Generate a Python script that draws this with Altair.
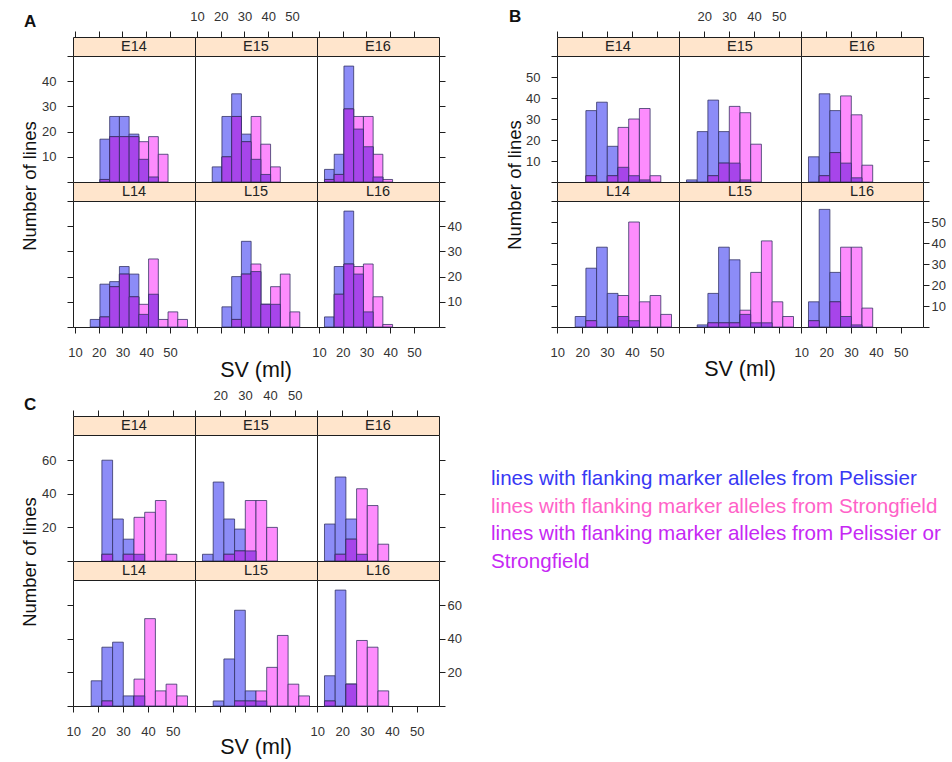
import altair as alt
import pandas as pd

FONT = "Liberation Sans"
INK = "#1e1e1e"
BLUE = "#8c8cf7"
PINK = "#fd8cfd"
PURPLE = "#a745ea"
EDGE = "#2e2e5e"
STRIP = "#ffe5cc"
W, PH, SH = 122, 126, 19

FACETS = ["E14", "E15", "E16", "L14", "L15", "L16"]
XTICKS = [10, 20, 30, 40, 50]

# ---------------- Panel A (bins start 12.3, width 4.1) ----------------
A_START, A_WIDTH = 12.3, 4.1
A_XDOM = [9.14, 60.56]
A_YMAX = 50
A_YTICKS = [0, 10, 20, 30, 40, 50]
A_E14_P = [0, 0, 17, 26, 26, 19, 9, 2, 0, 0, 0]
A_E14_S = [0, 0, 1, 18, 18, 18, 16, 18, 11, 0, 0]
A_E15_P = [0, 6, 26, 35, 19, 9, 3, 0, 0, 0, 0]
A_E15_S = [0, 0, 10, 26, 16, 26, 15, 6, 0, 0, 0]
A_E16_P = [5, 11, 46, 21, 14, 2, 0, 0, 0, 0, 0]
A_E16_S = [1, 3, 29, 26, 26, 11, 1, 0, 0, 0, 0]
A_L14_P = [0, 3, 17, 18, 24, 21, 5, 13, 0, 0, 0]
A_L14_S = [0, 0, 4, 16, 21, 12, 9, 27, 3, 6, 3]
A_L15_P = [0, 0, 8, 20, 34, 22, 9, 9, 0, 0, 0]
A_L15_S = [0, 0, 0, 3, 21, 25, 9, 16, 21, 6, 0]
A_L16_P = [4, 24, 46, 21, 6, 0, 0, 0, 0, 0, 0]
A_L16_S = [0, 13, 25, 24, 25, 12, 1, 0, 0, 0, 0]

# ---------------- Panel B (bins start 12.9, width 4.3) ----------------
B_START, B_WIDTH = 12.9, 4.3
B_XDOM = [9.89, 58.91]
B_YMAX = 60
B_YTICKS = [0, 10, 20, 30, 40, 50, 60]
B_E14_P = [0, 0, 34, 38, 17, 7, 3, 1, 0, 0]
B_E14_S = [0, 0, 3, 0, 3, 26, 30, 35, 3, 0]
B_E15_P = [1, 24, 39, 24, 9, 1, 0, 0, 0, 0]
B_E15_S = [0, 0, 3, 9, 36, 33, 18, 0, 0, 0]
B_E16_P = [12, 42, 34, 9, 2, 0, 0, 0, 0, 0]
B_E16_S = [0, 3, 14, 41, 32, 8, 0, 0, 0, 0]
B_L14_P = [0, 5, 28, 38, 16, 5, 3, 0, 0, 0]
B_L14_S = [0, 0, 3, 0, 0, 15, 50, 12, 15, 6]
B_L15_P = [0, 1, 16, 38, 32, 6, 2, 2, 0, 0]
B_L15_S = [0, 0, 2, 2, 2, 8, 26, 41, 12, 5]
B_L16_P = [12, 56, 26, 5, 1, 0, 0, 0, 0, 0]
B_L16_S = [3, 0, 12, 38, 38, 9, 0, 0, 0, 0]

# ---------------- Panel C (bins start 12.9, width 4.3) ----------------
C_START, C_WIDTH = 12.9, 4.3
C_XDOM = [9.89, 58.91]
C_YMAX = 75
C_YTICKS = [0, 20, 40, 60]
C_E14_P = [0, 0, 60, 25, 13, 4, 0, 0, 0, 0]
C_E14_S = [0, 0, 4, 0, 4, 26, 29, 36, 4, 0]
C_E15_P = [4, 47, 25, 19, 6, 0, 0, 0, 0, 0]
C_E15_S = [0, 0, 4, 6, 36, 36, 20, 0, 0, 0]
C_E16_P = [22, 50, 25, 4, 0, 0, 0, 0, 0, 0]
C_E16_S = [0, 4, 13, 43, 33, 10, 0, 0, 0, 0]
C_L14_P = [0, 15, 35, 38, 6, 6, 0, 0, 0, 0]
C_L14_S = [0, 0, 3, 0, 0, 16, 52, 9, 13, 6]
C_L15_P = [0, 3, 28, 57, 9, 3, 0, 0, 0, 0]
C_L15_S = [0, 0, 0, 3, 3, 9, 23, 42, 13, 6]
C_L16_P = [18, 69, 13, 0, 0, 0, 0, 0, 0, 0]
C_L16_S = [3, 0, 13, 39, 35, 9, 0, 0, 0, 0]

PANEL_LETTERS = ["A", "B", "C"]
Y_TITLE = "Number of lines"
X_TITLE = "SV (ml)"
LEGEND_LINES = [
    "lines with flanking marker alleles from Pelissier",
    "lines with flanking marker alleles from Strongfield",
    "lines with flanking marker alleles from Pelissier or",
    "Strongfield",
]
LEGEND_COLORS = ["#3838f4", "#ff62c8", "#c628f4", "#c628f4"]
LEGEND_ROWS = [0, 1, 2, 3]

# grid geometry (flush layout: column widths / row heights in px)
COL_W = [73, W, W, W, 118, W, W, W]
ROW_H = [37, SH, PH, SH, PH, 89, SH, PH, SH, PH, 56]

AXIS_STYLE = dict(domain=False, grid=False, ticks=True, tickColor=INK, tickSize=6,
                  tickWidth=1, labelFont=FONT, labelFontSize=13, labelColor="#333333",
                  labelFlush=False, labelOverlap=False, labelBound=False, title=None)
CLEAR_VIEW = alt.ViewBackground(fill="transparent", stroke="transparent", strokeWidth=0)
ONE = pd.DataFrame({"k": [0]})


def spacer(w, h):
    return alt.Chart(ONE).mark_point(opacity=0, size=1).encode(
        x=alt.value(w / 2), y=alt.value(h / 2)).properties(width=w, height=h, view=CLEAR_VIEW)


def text_cell(w, h, text, x, y, size, weight="normal", angle=0, align="center"):
    df = pd.DataFrame({"t": [text]})
    kw = dict(font=FONT, fontSize=size, fontWeight=weight, color="#111111",
              align=align, baseline="middle")
    if angle:
        kw["angle"] = angle
    return alt.Chart(df).mark_text(**kw).encode(
        x=alt.value(x), y=alt.value(y), text="t:N"
    ).properties(width=w, height=h, view=CLEAR_VIEW)


def hist_frame(pel, stg, start, width):
    rows = []
    for i, (p, s) in enumerate(zip(pel, stg)):
        lo = round(start + i * width, 3)
        rows.append({"lo": lo, "hi": round(lo + width, 3), "pel": p, "stg": s,
                     "both": min(p, s)})
    return pd.DataFrame(rows)


def strip_cell(label, xdom, top_axis, top_labels, hide10):
    df = pd.DataFrame({"xc": [(xdom[0] + xdom[1]) / 2], "lab": [label]})
    scale = alt.Scale(domain=xdom, nice=False, zero=False)
    if top_axis:
        expr = "datum.value == 10 ? '' : datum.label" if hide10 else "datum.label"
        axis = alt.Axis(orient="top", values=XTICKS, labels=top_labels, labelExpr=expr,
                        labelPadding=8, **AXIS_STYLE)
    else:
        axis = None
    return alt.Chart(df).mark_text(font=FONT, fontSize=14.5, color="#222222",
                                   baseline="middle").encode(
        x=alt.X("xc:Q", scale=scale, axis=axis),
        y=alt.value(SH / 2 + 0.5),
        text="lab:N",
    ).properties(width=W, height=SH,
                 view=alt.ViewBackground(fill=STRIP, stroke=INK, strokeWidth=1))


def plot_cell(df, xdom, ymax, yticks, row, col):
    xs = alt.Scale(domain=xdom, nice=False, zero=False)
    ys = alt.Scale(domain=[0, ymax], nice=False, zero=True)
    if row == 1:
        xaxis = alt.Axis(orient="bottom", values=XTICKS, labels=(col != 1),
                         labelPadding=13, **AXIS_STYLE)
    else:
        xaxis = None
    hide = f"(datum.value == 0 || datum.value == {ymax}) ? '' : datum.label"
    if col == 0:
        yaxis = alt.Axis(orient="left", values=yticks, labels=(row == 0), labelExpr=hide,
                         labelPadding=11, **AXIS_STYLE)
    elif col == 2:
        yaxis = alt.Axis(orient="right", values=yticks, labels=(row == 1), labelExpr=hide,
                         labelPadding=2, **AXIS_STYLE)
    else:
        yaxis = None
    base = alt.Chart(df)
    layers = []
    for field, color in [("pel", BLUE), ("stg", PINK), ("both", PURPLE)]:
        layers.append(
            base.transform_filter(f"datum.{field} > 0").mark_rect(
                fill=color, stroke=EDGE, strokeWidth=0.9, strokeOpacity=0.85
            ).encode(
                x=alt.X("lo:Q", scale=xs, axis=xaxis),
                x2="hi:Q",
                y=alt.Y(f"{field}:Q", scale=ys, axis=yaxis),
                y2=alt.datum(0),
            )
        )
    return alt.layer(*layers).properties(
        width=W, height=PH, view=alt.ViewBackground(fill="white", stroke=INK, strokeWidth=1))


def place_panel(cells, r0, c0, counts, start, width, xdom, ymax, yticks, hide10):
    for rr in range(2):
        facs = FACETS[3 * rr:3 * rr + 3]
        for c, f in enumerate(facs):
            cells[(r0 + 2 * rr, c0 + c)] = strip_cell(f, xdom, rr == 0, c == 1, hide10)
            pel, stg = counts[f]
            cells[(r0 + 2 * rr + 1, c0 + c)] = plot_cell(
                hist_frame(pel, stg, start, width), xdom, ymax, yticks, rr, c)


A_COUNTS = {"E14": (A_E14_P, A_E14_S), "E15": (A_E15_P, A_E15_S), "E16": (A_E16_P, A_E16_S),
            "L14": (A_L14_P, A_L14_S), "L15": (A_L15_P, A_L15_S), "L16": (A_L16_P, A_L16_S)}
B_COUNTS = {"E14": (B_E14_P, B_E14_S), "E15": (B_E15_P, B_E15_S), "E16": (B_E16_P, B_E16_S),
            "L14": (B_L14_P, B_L14_S), "L15": (B_L15_P, B_L15_S), "L16": (B_L16_P, B_L16_S)}
C_COUNTS = {"E14": (C_E14_P, C_E14_S), "E15": (C_E15_P, C_E15_S), "E16": (C_E16_P, C_E16_S),
            "L14": (C_L14_P, C_L14_S), "L15": (C_L15_P, C_L15_S), "L16": (C_L16_P, C_L16_S)}

cells = {}
place_panel(cells, 1, 1, A_COUNTS, A_START, A_WIDTH, A_XDOM, A_YMAX, A_YTICKS, False)
place_panel(cells, 1, 5, B_COUNTS, B_START, B_WIDTH, B_XDOM, B_YMAX, B_YTICKS, True)
place_panel(cells, 6, 1, C_COUNTS, C_START, C_WIDTH, C_XDOM, C_YMAX, C_YTICKS, True)

# panel letters
cells[(0, 0)] = text_cell(COL_W[0], ROW_H[0], PANEL_LETTERS[0], 24, 22, 17, "bold", align="left")
cells[(0, 4)] = text_cell(COL_W[4], ROW_H[0], PANEL_LETTERS[1], 70, 17, 17, "bold", align="left")
cells[(5, 0)] = text_cell(COL_W[0], ROW_H[5], PANEL_LETTERS[2], 24, 78, 17, "bold", align="left")
# y titles
cells[(2, 0)] = text_cell(COL_W[0], ROW_H[2], Y_TITLE, 30, 130, 18.5, angle=270)
cells[(2, 4)] = text_cell(COL_W[4], ROW_H[2], Y_TITLE, 76, 129, 18.5, angle=270)
cells[(7, 0)] = text_cell(COL_W[0], ROW_H[7], Y_TITLE, 30, 127, 18.5, angle=270)
# x titles
cells[(5, 2)] = text_cell(W, ROW_H[5], X_TITLE, 61, 44, 21.5)
cells[(5, 6)] = text_cell(W, ROW_H[5], X_TITLE, 61, 43, 21.5)
cells[(10, 2)] = text_cell(W, ROW_H[10], X_TITLE, 61, 42, 21.5)

# legend text block
legend_df = pd.DataFrame({"text": LEGEND_LINES, "color": LEGEND_COLORS, "row": LEGEND_ROWS})
cells[(7, 4)] = alt.Chart(legend_df).mark_text(
    align="left", baseline="alphabetic", font=FONT, fontSize=20.6
).encode(
    x=alt.value(52),
    y=alt.Y("row:Q", scale=alt.Scale(domain=[0, 3], range=[50, 132.5]), axis=None),
    text="text:N",
    color=alt.Color("color:N", scale=None),
).properties(width=COL_W[4], height=ROW_H[7], view=CLEAR_VIEW)

ordered = []
for r, h in enumerate(ROW_H):
    for c, w in enumerate(COL_W):
        ordered.append(cells.get((r, c), spacer(w, h)))

chart = alt.concat(
    *ordered, columns=len(COL_W), spacing=0, bounds="flush", align="each"
).properties(
    padding={"left": 0, "top": 0, "right": 0, "bottom": 0},
    background="white",
).configure(font=FONT).configure_view(stroke=INK, strokeWidth=1)

chart.save("out.html", embed_options={"renderer": "svg", "actions": False})
